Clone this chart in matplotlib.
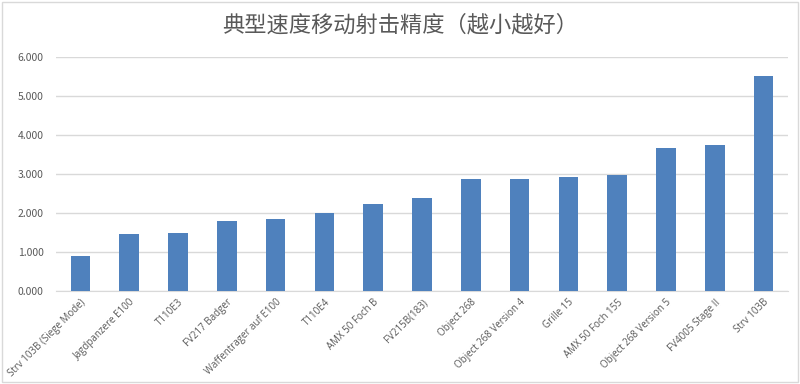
import matplotlib
matplotlib.use('Agg')
import matplotlib.pyplot as plt
from matplotlib.patches import Rectangle
from matplotlib.ticker import FormatStrFormatter

plt.rcParams['font.family'] = ['Noto Sans CJK SC', 'DejaVu Sans']

tanks = ['Strv 103B (Siege Mode)', 'Jagdpanzere E100', 'T110E3', 'FV217 Badger',
         'Waffentrager auf E100', 'T110E4', 'AMX 50 Foch B', 'FV215B(183)',
         'Object 268', 'Object 268 Version 4', 'Grille 15', 'AMX 50 Foch 155',
         'Object 268 Version 5', 'FV4005 Stage II', 'Strv 103B']
accuracy = [0.905, 1.46, 1.485, 1.81, 1.85, 2.005, 2.23, 2.38,
            2.88, 2.88, 2.925, 2.985, 3.67, 3.74, 5.51]

BAR = '#4f81bd'
TXT = '#595959'
GRID = '#d9d9d9'

fig = plt.figure(figsize=(8, 3.84), dpi=100)
ax = fig.add_axes([0.07, 0.241, 0.915, 0.611])

x = range(len(tanks))
ax.bar(x, accuracy, width=0.4, color=BAR, zorder=3)

ax.set_xlim(-0.5, len(tanks) - 0.5)
ax.set_ylim(0, 6)
ax.set_yticks([0, 1, 2, 3, 4, 5, 6])
ax.yaxis.set_major_formatter(FormatStrFormatter('%.3f'))
ax.grid(axis='y', color=GRID, linewidth=1, zorder=0)
ax.set_xticks(list(x))
ax.set_xticklabels(tanks, rotation=45, ha='right', rotation_mode='anchor',
                   fontsize=7, color=TXT, family=['Open Sans', 'DejaVu Sans'])
ax.tick_params(axis='y', labelsize=7.5, colors=TXT, length=0, pad=9)
ax.tick_params(axis='x', length=0, pad=4)
for s in ['top', 'right', 'left']:
    ax.spines[s].set_visible(False)
ax.spines['bottom'].set_color(GRID)

fig.text(0.5, 0.935, '典型速度移动射击精度（越小越好）', ha='center', va='center',
         fontsize=16, color=TXT)

fig.patches.append(Rectangle((0.003, 0.005), 0.994, 0.99, transform=fig.transFigure,
                             fill=False, edgecolor='#d9d9d9', linewidth=1))

fig.savefig('out.png', dpi=100)
